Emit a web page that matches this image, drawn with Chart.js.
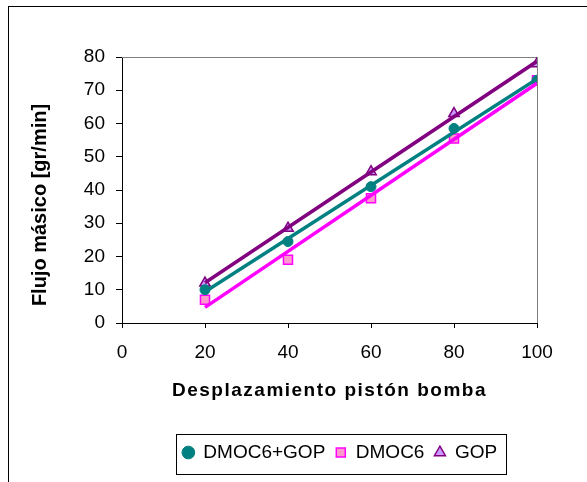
<!DOCTYPE html>
<html>
<head>
<meta charset="utf-8">
<script src="https://cdn.jsdelivr.net/npm/chart.js@4"></script>
<style>
  html, body { margin: 0; padding: 0; background: #fff; }
</style>
</head>
<body>
<canvas id="myChart1" width="587" height="482"></canvas>
<script>
// values
const desplazamiento = [20, 40, 60, 80, 100];
const dmoc6Gop = [10, 24.5, 41, 58.5, 73];
const dmoc6 = [7, 19, 37.5, 55.5, 73];
const gop = [12, 28.5, 45.5, 63, 78];

// trend lines, ends read at x = 20 and x = 100
const trendX = [20, 100];
const trendDmoc6Gop = [9.4, 73.4];
const trendDmoc6 = [4.7, 72.1];
const trendGop = [12.1, 78.7];

const xTicks = [0, 20, 40, 60, 80, 100];
const yTicks = [0, 10, 20, 30, 40, 50, 60, 70, 80];

const pts = (xs, ys) => xs.map((x, i) => ({ x: x, y: ys[i] }));

const boxes = {
  id: "boxes",
  afterLayout(chart) {
    // the legend sits under the plot, not under the whole canvas
    const lg = chart.legend;
    const shift = 340 - (lg.left + lg.right) / 2;
    lg.left += shift;
    lg.right += shift;
  },
  beforeDatasetsDraw(chart) {
    const { ctx, chartArea: a } = chart;
    ctx.save();
    ctx.strokeStyle = "#808080";
    ctx.lineWidth = 1;
    ctx.beginPath();
    ctx.moveTo(a.left, a.top + 0.5);
    ctx.lineTo(a.right + 0.5, a.top + 0.5);
    ctx.lineTo(a.right + 0.5, a.bottom);
    ctx.stroke();
    ctx.restore();
  },
  afterDraw(chart) {
    const ctx = chart.ctx;
    const lg = chart.legend;
    ctx.save();
    ctx.strokeStyle = "#000";
    ctx.lineWidth = 1;
    // outer frame (runs off the right and bottom edges)
    ctx.strokeRect(8.5, 6.5, 700, 600);
    // legend frame
    const pad = lg.options.labels.padding;
    const lw = lg.lineWidths[0];
    const start = (lg.left + pad + lg.right - lw) / 2;
    const l = Math.round(start - 7);
    const r = Math.round(start + lw - pad + 9);
    const cy = Math.round(lg.top + pad + lg.options.labels.font.size / 2);
    ctx.strokeRect(l + 0.5, cy - 19 + 0.5, r - l, 40);
    ctx.restore();
  },
  beforeDraw(chart) {
    const xs = chart.scales.x;
    if (xs && !xs._patched) {
      const orig = xs.drawTitle;
      xs.drawTitle = function () {
        this.ctx.save();
        this.ctx.letterSpacing = "1.5px";
        orig.call(this);
        this.ctx.restore();
      };
      xs._patched = true;
    }
    const ys = chart.scales.y;
    if (ys && !ys._patched) {
      const orig = ys.drawTitle;
      ys.drawTitle = function () {
        this.ctx.save();
        this.ctx.translate(0, 15);
        orig.call(this);
        this.ctx.restore();
      };
      ys._patched = true;
    }
  },
};

new Chart(document.getElementById("myChart1"), {
  type: "scatter",
  data: {
    datasets: [
      {
        label: "DMOC6+GOP",
        data: pts(desplazamiento, dmoc6Gop),
        pointStyle: "circle",
        pointRadius: 5,
        backgroundColor: "#008080",
        borderColor: "#008080",
        borderWidth: 1,
        order: 2,
      },
      {
        label: "DMOC6",
        data: pts(desplazamiento, dmoc6),
        pointStyle: "rect",
        pointRadius: 6.4,
        backgroundColor: "#FF99CC",
        borderColor: "#FF00FF",
        borderWidth: 1.5,
        order: 2,
      },
      {
        label: "GOP",
        data: pts(desplazamiento, gop),
        pointStyle: "triangle",
        pointRadius: 6,
        backgroundColor: "#CC99FF",
        borderColor: "#800080",
        borderWidth: 1.5,
        order: 2,
      },
      {
        type: "line",
        label: "trend DMOC6",
        data: pts(trendX, trendDmoc6),
        borderColor: "#FF00FF",
        borderWidth: 3.5,
        pointRadius: 0,
        fill: false,
        order: 1,
      },
      {
        type: "line",
        label: "trend DMOC6+GOP",
        data: pts(trendX, trendDmoc6Gop),
        borderColor: "#008080",
        borderWidth: 3.5,
        pointRadius: 0,
        fill: false,
        order: 1,
      },
      {
        type: "line",
        label: "trend GOP",
        data: pts(trendX, trendGop),
        borderColor: "#800080",
        borderWidth: 3.5,
        pointRadius: 0,
        fill: false,
        order: 0,
      },
    ],
  },
  options: {
    responsive: false,
    animation: false,
    devicePixelRatio: 1,
    layout: {
      padding: { top: 57, right: 50, bottom: 10, left: 0 },
    },
    plugins: {
      tooltip: { enabled: false },
      legend: {
        position: "bottom",
        labels: {
          filter: (item) => !item.text.startsWith("trend"),
          usePointStyle: true,
          boxWidth: 11,
          boxHeight: 9,
          padding: 10,
          color: "#000",
          font: { family: "Liberation Sans", size: 19 },
        },
      },
    },
    scales: {
      x: {
        type: "linear",
        min: 0,
        max: 100,
        afterBuildTicks: (s) => { s.ticks = xTicks.map((v) => ({ value: v })); },
        afterFit: (s) => { s.height = 110; },
        grid: {
          drawOnChartArea: false,
          drawTicks: true,
          tickLength: 5,
          color: "#000",
        },
        border: { display: true, color: "#000", width: 1 },
        ticks: {
          padding: 13,
          color: "#000",
          font: { family: "Liberation Sans", size: 19 },
        },
        title: {
          display: true,
          text: "Desplazamiento pistón bomba",
          color: "#000",
          padding: { top: 4, bottom: 31 },
          font: { family: "Liberation Sans", size: 19, weight: "bold" },
        },
      },
      y: {
        min: 0,
        max: 80,
        afterBuildTicks: (s) => { s.ticks = yTicks.map((v) => ({ value: v })); },
        afterFit: (s) => { s.width = 122; },
        grid: {
          drawOnChartArea: false,
          drawTicks: true,
          tickLength: 6,
          color: "#000",
        },
        border: { display: true, color: "#000", width: 1 },
        ticks: {
          padding: 11,
          color: "#000",
          font: { family: "Liberation Sans", size: 19 },
        },
        title: {
          display: true,
          text: "Flujo másico [gr/min]",
          color: "#000",
          padding: { top: 28, bottom: 4 },
          font: { family: "Liberation Sans", size: 20, weight: "bold" },
        },
      },
    },
  },
  plugins: [boxes],
});
</script>
</body>
</html>
